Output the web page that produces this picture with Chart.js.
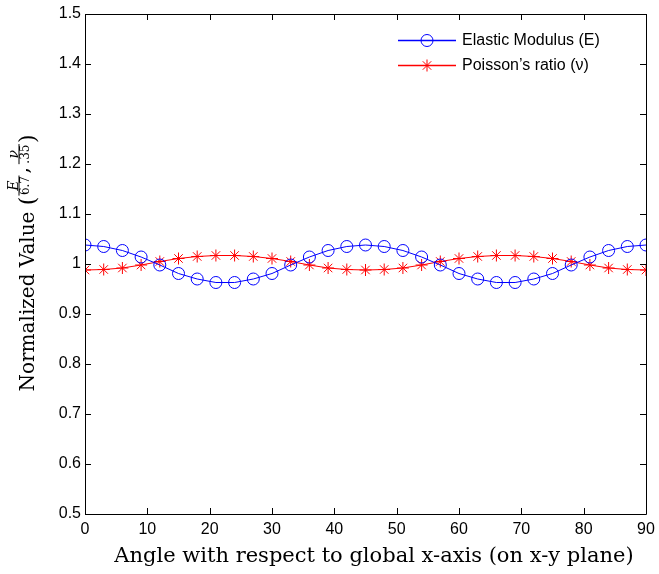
<!DOCTYPE html>
<html>
<head>
<meta charset="utf-8">
<script src="https://cdn.jsdelivr.net/npm/chart.js@4.4.1/dist/chart.umd.min.js"></script>
<style>
  html, body { margin: 0; padding: 0; background: #fff; }
  #wrap { width: 659px; height: 574px; }
</style>
</head>
<body>
<div id="wrap"><canvas id="chart"></canvas></div>
<script>
// angles (degrees) every 3
const angles = [0, 3, 6, 9, 12, 15, 18, 21, 24, 27, 30, 33, 36, 39, 42, 45,
                48, 51, 54, 57, 60, 63, 66, 69, 72, 75, 78, 81, 84, 87, 90];

// E / 6.7
const modulus = [1.038, 1.035, 1.027, 1.014, 0.998, 0.981, 0.970, 0.963, 0.963, 0.970, 0.981,
                 0.998, 1.014, 1.027, 1.035, 1.038, 1.035, 1.027, 1.014, 0.998, 0.981, 0.970,
                 0.963, 0.963, 0.970, 0.981, 0.998, 1.014, 1.027, 1.035, 1.038];

// nu / .35
const poisson = [0.988, 0.989, 0.992, 0.998, 1.005, 1.011, 1.015, 1.017, 1.017, 1.015, 1.011,
                 1.005, 0.998, 0.992, 0.989, 0.988, 0.989, 0.992, 0.998, 1.005, 1.011, 1.015,
                 1.017, 1.017, 1.015, 1.011, 1.005, 0.998, 0.992, 0.989, 0.988];

const seriesNames = ['Elastic Modulus (E)', 'Poisson\u2019s ratio (\u03bd)'];
const seriesColors = ['#0000ff', '#ff0000'];
const xTicks = [0, 10, 20, 30, 40, 50, 60, 70, 80, 90];
const yTicks = [0.5, 0.6, 0.7, 0.8, 0.9, 1, 1.1, 1.2, 1.3, 1.4, 1.5];

const xTitle = 'Angle with respect to global x-axis (on x-y plane)';

const SANS = '"Liberation Sans", Arial, sans-serif';
const SERIF = '"DejaVu Serif", "Liberation Serif", serif';

// matlab-ish box with inward ticks, legend and axis titles
const decor = {
    id: 'decor',
    afterDraw(chart) {
        const ctx = chart.ctx;
        const a = chart.chartArea;
        const xs = chart.scales.x, ys = chart.scales.y;
        const tl = 6;
        ctx.save();
        ctx.strokeStyle = '#000';
        ctx.lineWidth = 1;
        ctx.beginPath();
        ctx.rect(a.left + 0.5, a.top + 0.5, a.right - a.left, a.bottom - a.top);
        xTicks.forEach(v => {
            const p = Math.round(xs.getPixelForValue(v)) + 0.5;
            ctx.moveTo(p, a.bottom); ctx.lineTo(p, a.bottom - tl);
            ctx.moveTo(p, a.top); ctx.lineTo(p, a.top + tl);
        });
        yTicks.forEach(v => {
            const p = Math.round(ys.getPixelForValue(v)) + 0.5;
            ctx.moveTo(a.left, p); ctx.lineTo(a.left + tl, p);
            ctx.moveTo(a.right, p); ctx.lineTo(a.right - tl, p);
        });
        ctx.stroke();

        // legend
        const lx0 = 398, lx1 = 456;
        const rows = [40, 65];
        chart.data.datasets.forEach((ds, i) => {
            const y = rows[i];
            ctx.beginPath();
            ctx.strokeStyle = seriesColors[i];
            ctx.lineWidth = 1.3;
            ctx.moveTo(lx0, y + 0.5);
            ctx.lineTo(lx1, y + 0.5);
            ctx.stroke();
            ctx.fillStyle = i === 0 ? 'rgba(0,0,0,0)' : seriesColors[i];
            ctx.strokeStyle = seriesColors[i];
            ctx.lineWidth = 1;
            Chart.helpers.drawPoint(ctx, {
                pointStyle: ds.pointStyle, radius: ds.pointRadius,
                borderWidth: 1, rotation: 0
            }, (lx0 + lx1) / 2, y + 0.5);
            ctx.fillStyle = '#000';
            ctx.font = '16px ' + SANS;
            ctx.textBaseline = 'middle';
            ctx.textAlign = 'left';
            ctx.fillText(seriesNames[i], 462, y + 1);
        });

        // x title
        ctx.fillStyle = '#000';
        ctx.font = '21px ' + SERIF;
        ctx.textAlign = 'center';
        ctx.textBaseline = 'alphabetic';
        ctx.fillText(xTitle, 374, 562);

        // y title with fractions
        ctx.translate(34, 263);
        ctx.rotate(-Math.PI / 2);
        const big = '20px ' + SERIF;
        const num = 'italic 14px ' + SERIF;
        const den = '12px ' + SERIF;
        const paren = '22px ' + SERIF;
        ctx.font = big;
        const w1 = ctx.measureText('Normalized Value ').width;
        ctx.font = paren; const wo = ctx.measureText('(').width;
        ctx.font = num; const wE = ctx.measureText('E').width;
        ctx.font = den; const w67 = ctx.measureText('6.7').width;
        const f1 = Math.max(wE, w67) + 3;
        ctx.font = big; const wc = ctx.measureText(',').width + 3;
        ctx.font = num; const wn = ctx.measureText('\u03bd').width;
        ctx.font = den; const w35 = ctx.measureText('.35').width;
        const f2 = Math.max(wn, w35) + 3;
        ctx.font = paren; const wp = ctx.measureText(')').width;
        const total = w1 + wo + f1 + wc + f2 + wp;
        let x = -total / 2;
        ctx.textAlign = 'left';
        ctx.textBaseline = 'alphabetic';
        ctx.font = big;
        ctx.fillText('Normalized Value ', x, 0);
        x += w1;
        ctx.font = paren; ctx.fillText('(', x, 1); x += wo;
        const frac = (n, d, w) => {
            ctx.font = num; ctx.textAlign = 'center';
            ctx.fillText(n, x + w / 2, -16.5);
            ctx.font = den;
            ctx.fillText(d, x + w / 2, -5.5);
            ctx.fillRect(x + 1, -15.5, w - 2, 1);
            x += w;
            ctx.textAlign = 'left';
        };
        frac('E', '6.7', f1);
        ctx.font = big; ctx.fillText(',', x + 1, -6); x += wc;
        frac('\u03bd', '.35', f2);
        ctx.font = paren; ctx.fillText(')', x, 1);
        ctx.restore();
    }
};

new Chart(document.getElementById('chart'), {
    type: 'line',
    data: {
        datasets: [{
            label: seriesNames[0],
            data: angles.map((a, i) => ({x: a, y: modulus[i]})),
            borderColor: seriesColors[0],
            borderWidth: 1,
            pointStyle: 'circle',
            pointRadius: 6,
            pointBorderWidth: 1,
            pointBorderColor: seriesColors[0],
            pointBackgroundColor: 'rgba(0,0,0,0)',
            tension: 0
        }, {
            label: seriesNames[1],
            data: angles.map((a, i) => ({x: a, y: poisson[i]})),
            borderColor: seriesColors[1],
            borderWidth: 1,
            pointStyle: 'star',
            pointRadius: 6,
            pointBorderWidth: 1,
            pointBorderColor: seriesColors[1],
            pointBackgroundColor: seriesColors[1],
            tension: 0
        }]
    },
    options: {
        responsive: true,
        maintainAspectRatio: false,
        animation: false,
        layout: { padding: { left: 0, right: 13, top: 14, bottom: 0 } },
        plugins: { legend: { display: false }, tooltip: { enabled: false } },
        scales: {
            x: {
                type: 'linear', min: 0, max: 90,
                afterFit: s => { s.height = 60; s.paddingLeft = 0; s.paddingRight = 0; },
                afterBuildTicks: s => { s.ticks = xTicks.map(v => ({value: v})); },
                grid: { display: false, drawTicks: false },
                border: { display: false },
                ticks: { color: '#000', padding: 6, maxRotation: 0, font: { family: SANS, size: 16 } }
            },
            y: {
                min: 0.5, max: 1.5,
                afterFit: s => { s.width = 85; s.paddingTop = 0; s.paddingBottom = 0; },
                afterBuildTicks: s => { s.ticks = yTicks.map(v => ({value: v})); },
                grid: { display: false, drawTicks: false },
                border: { display: false },
                ticks: {
                    color: '#000', padding: 4, font: { family: SANS, size: 16 },
                    callback: v => (v === 1 ? '1' : v.toFixed(1))
                }
            }
        }
    },
    plugins: [decor]
});
</script>
</body>
</html>
